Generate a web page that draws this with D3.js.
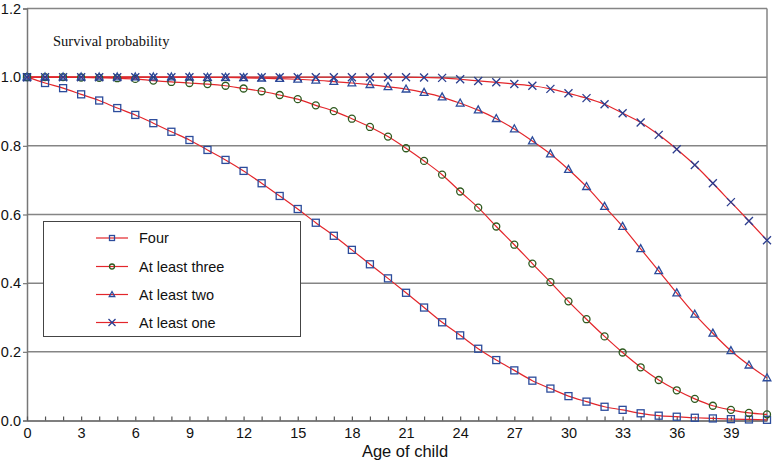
<!DOCTYPE html>
<html><head><meta charset="utf-8">
<script src="https://cdn.jsdelivr.net/npm/d3@7"></script>
<style>body{margin:0;background:#fff}svg{display:block}</style>
</head><body><svg id="c" width="773" height="463"></svg>
<script>
const ages = d3.range(0, 42);
const four = [1.0,0.983,0.968,0.950,0.932,0.910,0.890,0.866,0.841,0.817,0.788,0.759,0.727,0.691,0.654,0.616,0.576,0.538,0.497,0.455,0.414,0.372,0.329,0.286,0.248,0.209,0.176,0.146,0.116,0.093,0.071,0.055,0.040,0.031,0.021,0.014,0.011,0.008,0.006,0.004,0.003,0.002];
const three = [1.0,1.0,1.0,0.999,0.998,0.997,0.995,0.990,0.986,0.983,0.980,0.975,0.967,0.959,0.948,0.936,0.918,0.901,0.879,0.855,0.827,0.793,0.756,0.716,0.667,0.620,0.565,0.512,0.457,0.403,0.347,0.295,0.245,0.198,0.155,0.118,0.088,0.063,0.043,0.031,0.022,0.018];
const two = [1.0,1.0,1.0,1.0,1.0,1.0,1.0,1.0,1.0,1.0,0.999,0.999,0.998,0.997,0.996,0.994,0.991,0.987,0.983,0.978,0.972,0.965,0.955,0.942,0.924,0.904,0.879,0.849,0.814,0.776,0.731,0.681,0.623,0.565,0.500,0.436,0.371,0.309,0.254,0.203,0.161,0.124];
const one = [1.0,1.0,1.0,1.0,1.0,1.0,1.0,1.0,1.0,1.0,1.0,1.0,1.0,1.0,1.0,1.0,1.0,1.0,1.0,1.0,1.0,1.0,0.999,0.998,0.994,0.989,0.985,0.980,0.975,0.966,0.953,0.939,0.921,0.895,0.868,0.832,0.790,0.744,0.691,0.636,0.581,0.525];
const seriesNames = ["Four","At least three","At least two","At least one"];
const seriesValues = [four, three, two, one];
const markerTypes = ["square","circle","triangle","cross"];
const yTicks = [0.0,0.2,0.4,0.6,0.8,1.0,1.2];
const xTickLabels = d3.range(0, 40, 3);

const svg = d3.select("#c");
const x = d3.scaleLinear().domain([0,41]).range([27,767]);
const y = d3.scaleLinear().domain([0,1.2]).range([420.5,8.5]);
const grid = "#858585";
const lineColor = "#e3262b";
const markColors = ["#2c4c9c","#2e5a1f","#2c4c9c","#2a3d8f"];
const sans = "Liberation Sans, Arial, Helvetica, sans-serif";

// gridlines
svg.append("g").selectAll("line").data(yTicks.filter(d=>d>0)).join("line")
  .attr("x1",x(0)).attr("x2",x(41)).attr("y1",d=>y(d)).attr("y2",d=>y(d))
  .attr("stroke",grid).attr("stroke-width",1.5);
// right border
svg.append("line").attr("x1",x(41)).attr("x2",x(41)).attr("y1",y(1.2)).attr("y2",y(0))
  .attr("stroke",grid).attr("stroke-width",1.5);

// y axis
const yAxis = svg.append("g").attr("transform",`translate(${x(0)},0)`)
  .call(d3.axisLeft(y).tickValues(yTicks).tickFormat(d3.format(".1f")).tickSize(4).tickPadding(2));
yAxis.select(".domain").attr("stroke","#777").attr("stroke-width",1.5);
yAxis.selectAll(".tick line").attr("stroke","#777").attr("stroke-width",1.2);
yAxis.selectAll("text").attr("font-family",sans).attr("font-size",14.5).attr("fill","#111");

// x axis (ticks inward)
const xAxis = svg.append("g").attr("transform",`translate(0,${y(0)})`)
  .call(d3.axisBottom(x).tickValues(ages).tickSize(0).tickPadding(7).tickFormat(d=> xTickLabels.includes(d)? d : ""));
xAxis.select(".domain").attr("stroke","#555").attr("stroke-width",1.5);
xAxis.selectAll(".tick").append("line").attr("y1",0).attr("y2",-4).attr("stroke","#555").attr("stroke-width",1.2);
xAxis.selectAll("text").attr("font-family",sans).attr("font-size",14.5).attr("fill","#111");

svg.append("text").attr("x",405).attr("y",457).attr("text-anchor","middle")
  .attr("font-family",sans).attr("font-size",16.5).attr("fill","#111").text("Age of child");
svg.append("text").attr("x",53).attr("y",46)
  .attr("font-family","Liberation Serif, Times New Roman, serif").attr("font-size",14.5).attr("fill","#111").text("Survival probability");

function drawMarker(g, type, color, s){
  if(type==="square") g.append("rect").attr("x",-s/2).attr("y",-s/2).attr("width",s).attr("height",s).attr("fill","none").attr("stroke",color).attr("stroke-width",1.3);
  else if(type==="circle") g.append("circle").attr("r",s/2).attr("fill","none").attr("stroke",color).attr("stroke-width",1.3);
  else if(type==="triangle") g.append("path").attr("d",`M0,${-s*0.6}L${s*0.55},${s*0.4}L${-s*0.55},${s*0.4}Z`).attr("fill","none").attr("stroke",color).attr("stroke-width",1.3);
  else g.append("path").attr("d",`M${-s/2},${-s/2}L${s/2},${s/2}M${-s/2},${s/2}L${s/2},${-s/2}`).attr("fill","none").attr("stroke",color).attr("stroke-width",1.3);
}

const line = d3.line().x((d,i)=>x(ages[i])).y(d=>y(d)).curve(d3.curveMonotoneX);
seriesValues.forEach((vals, si)=>{
  svg.append("path").attr("d",line(vals)).attr("fill","none").attr("stroke",lineColor).attr("stroke-width",1.2);
});
seriesValues.forEach((vals, si)=>{
  const g = svg.append("g");
  vals.forEach((v,i)=>{
    const m = g.append("g").attr("transform",`translate(${x(ages[i])},${y(v)})`);
    drawMarker(m, markerTypes[si], markColors[si], si===3?8:7);
  });
});

// legend
const lg = svg.append("g");
lg.append("rect").attr("x",43.5).attr("y",221.5).attr("width",257).attr("height",115)
  .attr("fill","#fff").attr("stroke","#444").attr("stroke-width",1);
const rowsY = [238,266.5,294.5,322.5];
seriesNames.forEach((n,i)=>{
  lg.append("line").attr("x1",96).attr("x2",128).attr("y1",rowsY[i]).attr("y2",rowsY[i]).attr("stroke",lineColor).attr("stroke-width",1.2);
  const m = lg.append("g").attr("transform",`translate(112,${rowsY[i]})`);
  drawMarker(m, markerTypes[i], markColors[i], i===3?7:5);
  lg.append("text").attr("x",139).attr("y",rowsY[i]+5).attr("font-family",sans).attr("font-size",14.5).attr("fill","#111").text(n);
});
</script></body></html>
